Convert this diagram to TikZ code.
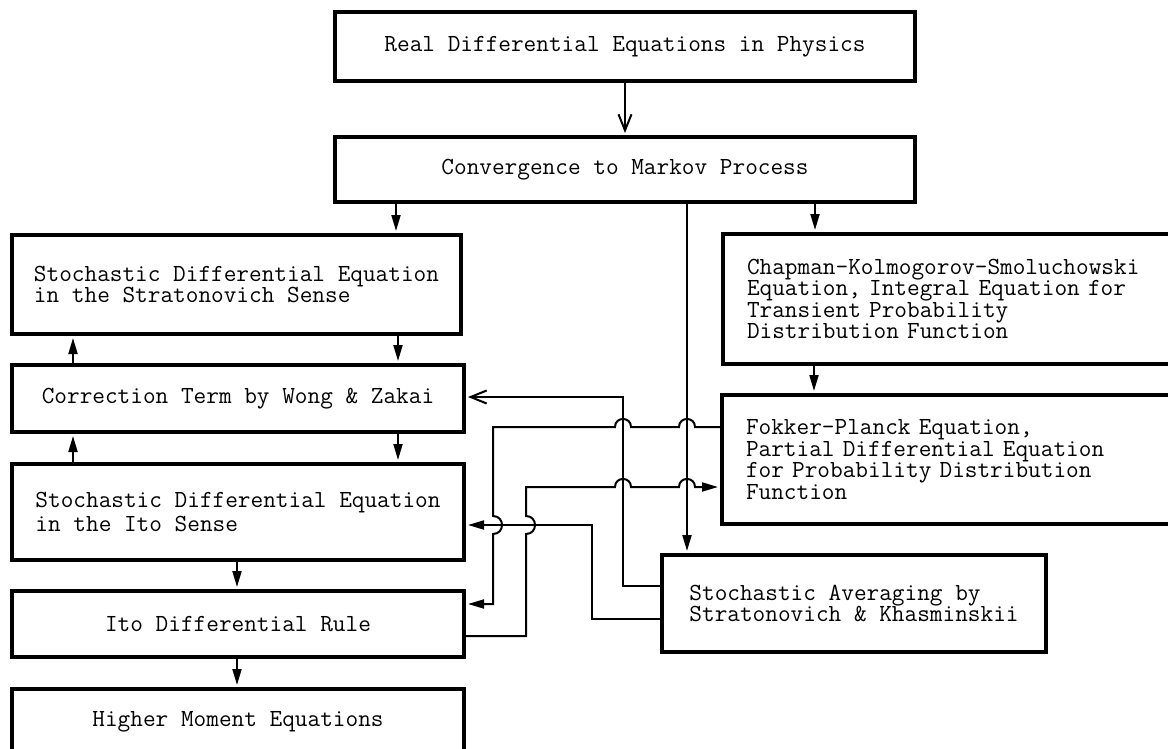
\documentclass[tikz,border=0pt]{standalone}
\usetikzlibrary{arrows.meta}
\begin{document}
\begin{tikzpicture}[x=0.5pt,y=-0.5pt,
  box/.style={draw, line width=2pt, anchor=north west, inner sep=0pt, align=left,
    font=\ttfamily\fontsize{12.29}{10.8}\selectfont},
  conn/.style={line width=1pt},
  arr/.style={conn, -{Triangle[length=8pt,width=4.5pt]}, shorten >=1pt},
  openarr/.style={conn, -{Straight Barb[length=8pt,width=6.5pt]}, shorten >=1pt}]
\useasboundingbox (0,0) rectangle (1168,749);
\clip (0,0) rectangle (1168,749);
% boxes
\node[box, minimum width=290pt, minimum height=34.5pt] (top) at (333,10) {Real Differential Equations in Physics};
\node[box, minimum width=290pt, minimum height=32.5pt] (markov) at (333,135) {Convergence to Markov Process};
\node[box, minimum width=224.5pt, minimum height=49.5pt] (strat) at (10,233) {Stochastic Differential Equation\\in the Stratonovich Sense};
\node[box, minimum width=226pt, minimum height=33.5pt] (corr) at (10,363) {Correction Term by Wong \& Zakai};
\node[box, minimum width=226pt, minimum height=48pt] (ito) at (10,462) {Stochastic Differential Equation\\[1pt]in the Ito Sense};
\node[box, minimum width=226pt, minimum height=33pt] (rule) at (10,589) {Ito Differential Rule};
\node[box, minimum width=226pt, minimum height=33pt] (higher) at (10,687) {Higher Moment Equations};
\node[box, text width=220pt, inner xsep=12pt, minimum height=65pt] (chap) at (721,232) {Chapman-Kolmogorov-Smoluchowski\\Equation, Integral Equation for\\Transient Probability\\Distribution Function};
\node[box, text width=220pt, inner xsep=12pt, minimum height=64.5pt] (fokker) at (720,393) {Fokker-Planck Equation,\\Partial Differential Equation\\for Probability Distribution\\Function};
\node[box, minimum width=192pt, minimum height=48.5pt] (sa) at (660,553) {Stochastic Averaging by\\Stratonovich \& Khasminskii};
% vertical connectors
\draw[openarr] (top.south) -- (markov.north);
\draw[arr] (markov.south -| 396,0) -- (strat.north -| 396,0);
\draw[arr] (markov.south -| 815,0) -- (chap.north -| 815,0);
\draw[arr] (markov.south -| 687,0) -- (sa.north -| 687,0);
\draw[arr] (strat.south -| 398,0) -- (corr.north -| 398,0);
\draw[arr] (corr.north -| 73,0) -- (strat.south -| 73,0);
\draw[arr] (corr.south -| 398,0) -- (ito.north -| 398,0);
\draw[arr] (ito.north -| 73,0) -- (corr.south -| 73,0);
\draw[arr] (ito.south -| 237,0) -- (rule.north -| 237,0);
\draw[arr] (rule.south -| 237,0) -- (higher.north -| 237,0);
\draw[arr] (chap.south -| 814,0) -- (fokker.north -| 814,0);
% Stochastic averaging -> correction term
\draw[openarr] (sa.west |- 0,586) -- (623,586) -- (623,397) -- (corr.east |- 0,397);
% Stochastic averaging -> Ito SDE
\draw[arr] (sa.west |- 0,619) -- (592,619) -- (592,525) -- (ito.east |- 0,525);
% Fokker-Planck -> Ito differential rule
\draw[arr] (fokker.west |- 0,427) -- (695,427) .. controls (695,416.3) and (679,416.3) .. (679,427)
  -- (631,427) .. controls (631,416.3) and (615,416.3) .. (615,427)
  -- (493,427) -- (493,516) .. controls (505,516) and (505,534) .. (493,534)
  -- (493,604) -- (rule.east |- 0,604);
% Ito differential rule -> Fokker-Planck
\draw[arr] (rule.east |- 0,636) -- (526,636) -- (526,534) .. controls (538,534) and (538,516) .. (526,516)
  -- (526,487) -- (615,487) .. controls (615,476.3) and (631,476.3) .. (631,487)
  -- (679,487) .. controls (679,476.3) and (695,476.3) .. (695,487)
  -- (fokker.west |- 0,487);
\end{tikzpicture}
\end{document}
